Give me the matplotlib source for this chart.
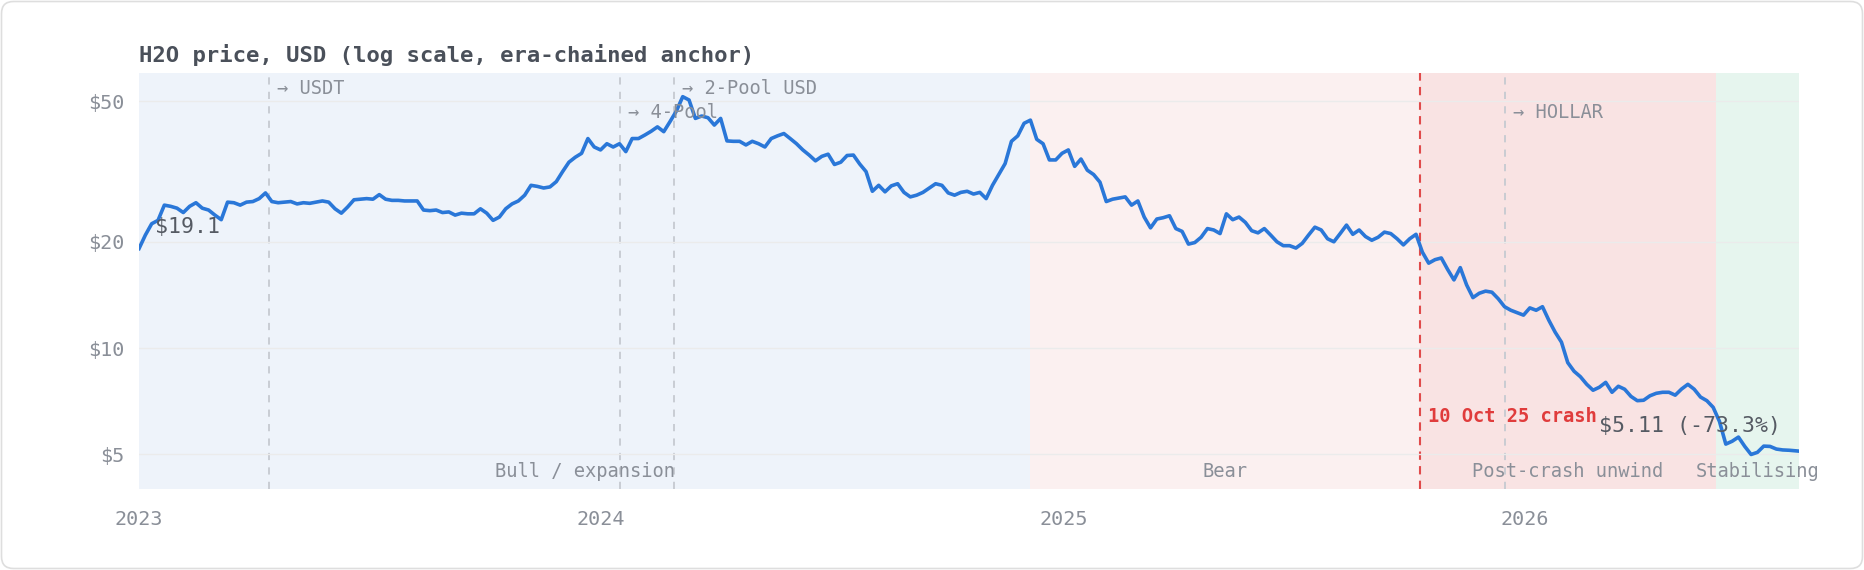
import pandas as pd
import matplotlib
matplotlib.use("Agg")
import matplotlib.pyplot as plt
import matplotlib.dates as mdates
from matplotlib.ticker import NullLocator, NullFormatter
from matplotlib.patches import FancyBboxPatch
from matplotlib.transforms import IdentityTransform

plt.rcParams['font.family'] = ['DejaVu Sans Mono', 'DejaVu Sans']
plt.rcParams['text.parse_math'] = False

# price sampled every 5 days from the start date, last value on end_date
start_date = '2023-01-01'
end_date = '2026-08-06'
step = '5D'
price = [
    19.14, 20.9, 22.5, 23.0, 25.4, 25.2, 24.9, 24.2, 25.2, 25.8,
    24.9, 24.6, 23.8, 23.1, 25.9, 25.8, 25.4, 25.9, 26.0, 26.5,
    27.5, 26.0, 25.8, 25.9, 26.0, 25.6, 25.8, 25.7, 25.9, 26.1,
    25.9, 24.8, 24.1, 25.1, 26.3, 26.4, 26.5, 26.4, 27.2, 26.4,
    26.2, 26.2, 26.1, 26.1, 26.1, 24.6, 24.5, 24.6, 24.2, 24.3,
    23.8, 24.1, 24.0, 24.0,
    24.8, 24.1, 23.0, 23.5, 24.8, 25.6, 26.1, 27.1, 28.9, 28.7,
    28.4, 28.6, 29.6, 31.6, 33.6, 34.7, 35.6, 39.2, 37.1, 36.4,
    37.9, 37.1, 37.9, 36.0, 39.2, 39.2, 40.1, 41.1, 42.3, 41.0,
    43.8, 46.9, 51.5, 50.4, 44.7, 45.4, 44.9, 42.8, 44.7, 38.6,
    38.5, 38.5, 37.6, 38.5, 37.9, 37.1, 39.2, 39.9, 40.5, 39.2,
    37.9, 36.4, 35.2,
    33.9, 34.9, 35.4, 33.1, 33.6, 35.1, 35.2, 33.2, 31.6, 27.8,
    28.9, 27.7, 28.8, 29.2, 27.6, 26.8, 27.1, 27.6, 28.4, 29.2,
    28.9, 27.5, 27.1, 27.6, 27.8, 27.3, 27.6, 26.5, 28.9, 31.0,
    33.3, 38.5, 39.9, 43.3, 44.2, 39.0, 37.9, 34.1, 34.1, 35.6,
    36.4, 32.7, 34.3, 31.9, 31.0, 29.5, 26.0, 26.4, 26.6, 26.8,
    25.4, 26.1, 23.5,
    21.9, 23.2, 23.4, 23.7, 21.8, 21.4, 19.7, 19.9, 20.6, 21.8,
    21.6, 21.1, 24.0, 23.1, 23.5, 22.7, 21.5, 21.2, 21.8, 20.9,
    20.0, 19.5, 19.5, 19.2, 19.8, 20.9, 22.0, 21.6, 20.4, 20.0,
    21.1, 22.3, 21.0, 21.6, 20.7, 20.2, 20.6, 21.3, 21.1, 20.4,
    19.6, 20.4, 21.0, 18.7, 17.4, 17.8, 18.0, 16.7, 15.6, 16.9,
    15.1, 13.9, 14.3, 14.5, 14.4, 13.8, 13.1, 12.8, 12.6, 12.4,
    13.0, 12.8, 13.1, 12.0, 11.1, 10.4, 9.1, 8.6, 8.3, 7.9,
    7.6, 7.75, 8.0, 7.5, 7.8, 7.65, 7.3, 7.1, 7.12, 7.33,
    7.45, 7.5, 7.5, 7.36, 7.66, 7.9, 7.65, 7.27, 7.1, 6.8,
    6.2, 5.35, 5.45, 5.6, 5.27, 5.0, 5.07, 5.28, 5.27, 5.18,
    5.15, 5.14, 5.11,
]

# market phases: start, label, fill colour
phase_start = ['2023-01-01', '2024-12-06', '2025-10-10', '2026-06-01']
phase_name = ['Bull / expansion', 'Bear', 'Post-crash unwind', 'Stabilising']
phase_color = ['#eef3fa', '#fbf0f0', '#f9e3e3', '#e6f5ee']

# anchor switches (era chaining)
switch_dates = ['2023-04-14', '2024-01-16', '2024-02-28', '2025-12-16']
switch_labels = ['→ USDT', '→ 4-Pool', '→ 2-Pool USD', '→ HOLLAR']

crash_date = '2025-10-10'
crash_label = '10 Oct 25 crash'

yticks = [5, 10, 20, 50]
ytick_labels = ['$5', '$10', '$20', '$50']

tick_grey = '#8a8f98'
text_dark = '#555a63'

fig = plt.figure(figsize=(18.64, 5.70), dpi=100)
ax = fig.add_axes([0.0746, 0.1426, 0.8906, 0.7298])

dates = pd.date_range(start_date, periods=len(price) - 1, freq=step)
dates = dates.append(pd.DatetimeIndex([end_date]))
ax.set_yscale('log')
ax.set_xlim(dates[0], dates[-1])
ax.set_ylim(4.0, 60.2)

# phase backgrounds
ends = phase_start[1:] + [dates[-1]]
for s, e, name, col in zip(phase_start, ends, phase_name, phase_color):
    s = pd.Timestamp(s)
    e = pd.Timestamp(e)
    ax.axvspan(s, e, color=col, lw=0, zorder=0)
    mid = mdates.date2num(s) + (mdates.date2num(e) - mdates.date2num(s)) / 2
    ax.text(mid, 0.029, name, transform=ax.get_xaxis_transform(),
            ha='center', va='baseline', fontsize=13.5, color=tick_grey, zorder=5)

# anchor switch markers
for i, (d, lab) in enumerate(zip(switch_dates, switch_labels)):
    x = mdates.date2num(pd.Timestamp(d))
    ax.axvline(x, color='#c6cad1', lw=1.3, ls=(0, (4, 4)), zorder=2)
    ypos = 0.948 if i % 2 == 0 else 0.890
    ax.annotate(lab, xy=(x, ypos), xycoords=ax.get_xaxis_transform(),
                xytext=(5.8, 0), textcoords='offset points',
                ha='left', va='baseline', fontsize=13.5, color=tick_grey, zorder=5)

# crash marker
cx = mdates.date2num(pd.Timestamp(crash_date))
ax.axvline(cx, color='#e04b4b', lw=1.5, ls=(0, (4, 3)), zorder=2)
ax.annotate(crash_label, xy=(cx, 0.16), xycoords=ax.get_xaxis_transform(),
            xytext=(5.8, 0), textcoords='offset points',
            ha='left', va='baseline', fontsize=13.5, fontweight='bold',
            color='#e03c3c', zorder=5)

ax.plot(dates, price, color='#2a77d8', lw=2.6, zorder=3)

# start / end labels
ax.annotate(f'${price[0]:.1f}', xy=(dates[0], price[0]),
            xytext=(11.5, 11.5), textcoords='offset points',
            ha='left', va='baseline', fontsize=15.5, color=text_dark, zorder=6)
chg = (price[-1] / price[0] - 1) * 100
ax.annotate(f'${price[-1]:.2f} ({chg:.1f}%)', xy=(dates[-1], price[-1]),
            xytext=(-13, 13.5), textcoords='offset points',
            ha='right', va='baseline', fontsize=15.5, color=text_dark, zorder=6)

ax.set_yticks(yticks)
ax.set_yticklabels(ytick_labels)
ax.yaxis.set_minor_locator(NullLocator())
ax.yaxis.set_minor_formatter(NullFormatter())
ax.xaxis.set_major_locator(mdates.YearLocator())
ax.xaxis.set_major_formatter(mdates.DateFormatter('%Y'))

ax.tick_params(axis='both', length=0, labelsize=14.5, labelcolor=tick_grey)
ax.tick_params(axis='x', pad=15)
ax.tick_params(axis='y', pad=10.5)

ax.set_axisbelow(False)
ax.yaxis.grid(True, color='#ebebeb', lw=1.0, zorder=2.5)
ax.xaxis.grid(False)
for sp in ax.spines.values():
    sp.set_visible(False)

fig.text(0.0746, 0.8918, 'H2O price, USD (log scale, era-chained anchor)',
         ha='left', va='baseline', fontsize=16, fontweight='bold', color='#4a505a')

# card border
card = FancyBboxPatch((1.5, 1.5), 1861, 567, boxstyle='round,pad=0,rounding_size=12',
                      transform=IdentityTransform(), fill=False,
                      edgecolor='#dedede', lw=1.2)
fig.patches.append(card)

fig.savefig('out.png', dpi=100, facecolor='white')
